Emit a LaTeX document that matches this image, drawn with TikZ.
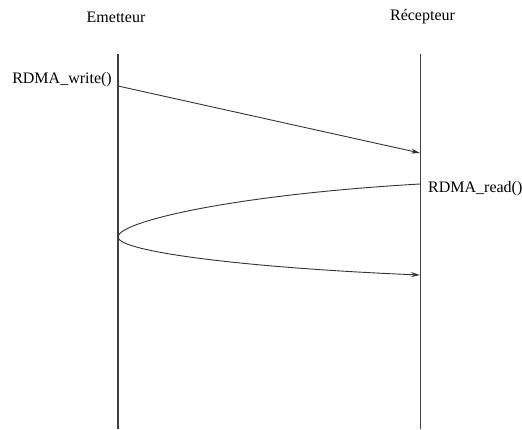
\documentclass[tikz,border=0pt]{standalone}
\usepackage{fontspec}
\setmainfont{Liberation Serif}
\usetikzlibrary{arrows.meta}
\begin{document}
\begin{tikzpicture}[x=1pt,y=-1pt,
  lifeline/.style={line width=1.3pt,draw=black!75},
  msg/.style={line width=0.9pt,draw=black!80,-{Stealth[length=9pt,width=5pt]}},
  lbl/.style={font=\fontsize{16}{18}\selectfont,inner sep=0pt}]
\useasboundingbox (0,0) rectangle (522,429);
\node[lbl] (em) at (116,17) {Emetteur};
\node[lbl] (re) at (422.5,17) {Récepteur};
\coordinate (emtop) at (118,54);
\coordinate (embot) at (118,429);
\coordinate (retop) at (420.5,54);
\coordinate (rebot) at (420.5,429);
\draw[lifeline] (emtop) -- (embot);
\draw[lifeline] (retop) -- (rebot);
\node[lbl,anchor=east] (w) at (112,80) {RDMA\_write()};
\node[lbl,anchor=west] (r) at (428,189) {RDMA\_read()};
\coordinate (w1) at (118,86);
\coordinate (w2) at (420,153);
\draw[msg] (w1) -- (w2);
\coordinate (r1) at (420,184);
\coordinate (v) at (118,237);
\coordinate (r2) at (420,275);
\draw[msg] (r1) .. controls (230,195) and (118,222) .. (v)
  .. controls (118,252) and (250,268) .. (r2);
\end{tikzpicture}
\end{document}
